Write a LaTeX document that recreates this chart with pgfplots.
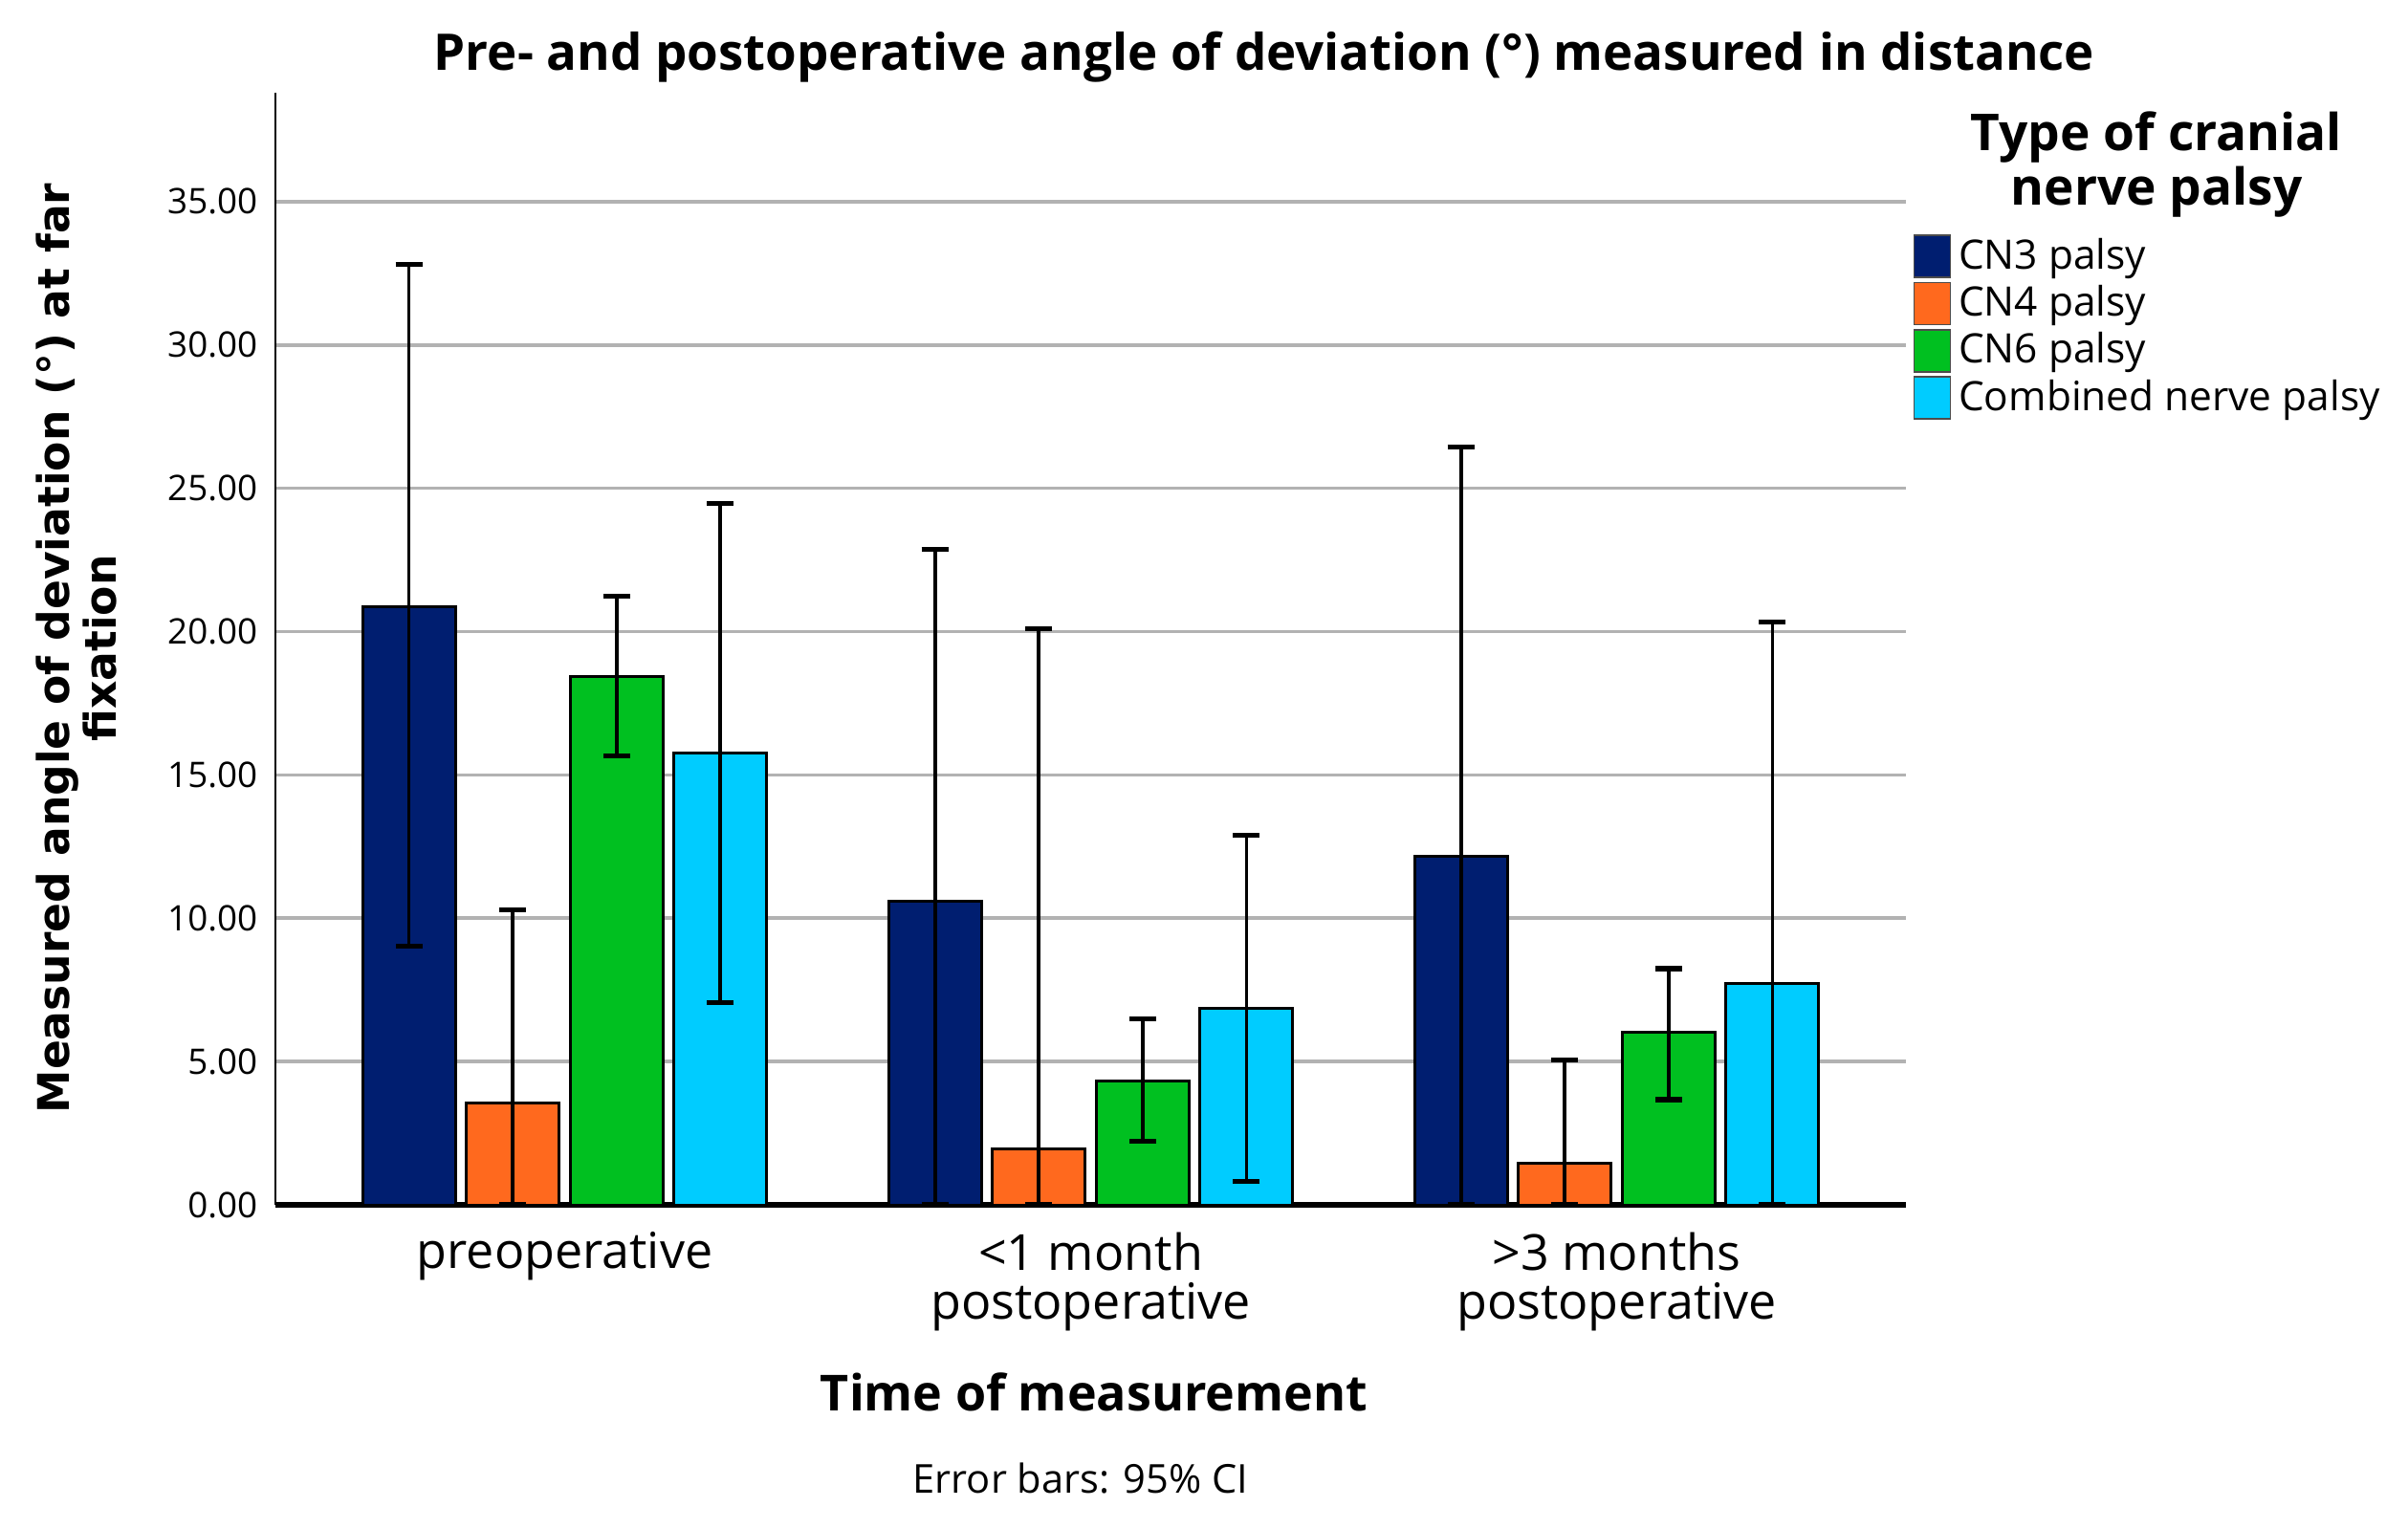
\documentclass[border=0pt]{standalone}
\usepackage{fontspec}
\setmainfont{Open Sans}
\newfontfamily\labelfont{DejaVu Sans}
\usepackage{pgfplots}
\pgfplotsset{compat=1.18}

\definecolor{cnthree}{RGB}{0,30,112}
\definecolor{cnfour}{RGB}{255,105,30}
\definecolor{cnsix}{RGB}{0,192,32}
\definecolor{combined}{RGB}{0,204,255}
\definecolor{gridgray}{RGB}{178,178,178}

\pgfplotsset{
    boxlegend/.style={legend image code/.code={%
        \draw[##1, draw=gray!60!black, line width=0.4pt] (0pt,-5.5pt) rectangle (9.5pt,5.5pt);}},
    palsybar/.style={fill=#1, draw=black, line width=0.75pt, boxlegend},
}

\begin{document}
\begin{tikzpicture}
\useasboundingbox (-72pt,-84.5pt) rectangle (557.5pt,315pt);
\begin{axis}[
    at={(0,0)}, anchor=south west,
    scale only axis,
    width=426.25pt, height=290.75pt,
    xmin=-0.55, xmax=2.55,
    ymin=0, ymax=38.8,
    ybar, bar width=0.176,
    axis x line*=bottom, axis y line*=left,
    x axis line style={line width=1.3pt, -},
    y axis line style={line width=0.5pt, -},
    xtick={0,1,2},
    xticklabels={preoperative, {<1 month\\postoperative}, {>3 months\\postoperative}},
    xticklabel style={font=\fontsize{13}{12.9}\selectfont, align=center, anchor=north, inner sep=0pt, yshift=-7pt},
    ytick={0,5,10,15,20,25,30,35},
    /pgf/number format/assume math mode=true,
    yticklabel style={/pgf/number format/.cd, fixed, fixed zerofill, precision=2, /tikz/.cd,
        font=\fontsize{9.2}{10}\selectfont, inner sep=0pt, xshift=-4.5pt},
    major tick length=0pt,
    ymajorgrids,
    major grid style={gridgray, line width=0.9pt},
    legend style={at={(1.0040,0.877)}, anchor=north west, draw=none, fill=none,
        font=\fontsize{10.6}{11}\selectfont, row sep=-1.2pt, inner sep=0pt,
        /tikz/every even column/.append style={column sep=1.5pt}},
    legend cell align=left,
    error bars/y dir=both, error bars/y explicit,
    error bars/error bar style={black, line width=0.9pt},
    error bars/error mark options={black, rotate=90, mark size=3.5pt, line width=1.3pt},
]

% CN3 palsy
\addplot[palsybar=cnthree, bar shift=-0.296]
    coordinates {(0,20.86) += (0,11.96) -= (0,11.84)
                 (1,10.59) += (0,12.28) -= (0,10.59)
                 (2,12.17) += (0,14.27) -= (0,12.17)};
% CN4 palsy
\addplot[palsybar=cnfour, bar shift=-0.0987]
    coordinates {(0,3.57) += (0,6.73) -= (0,3.57)
                 (1,1.95) += (0,18.16) -= (0,1.95)
                 (2,1.46) += (0,3.59) -= (0,1.46)};
% CN6 palsy
\addplot[palsybar=cnsix, bar shift=0.0987]
    coordinates {(0,18.42) += (0,2.82) -= (0,2.75)
                 (1,4.31) += (0,2.19) -= (0,2.10)
                 (2,6.01) += (0,2.23) -= (0,2.34)};
% combined
\addplot[palsybar=combined, bar shift=0.296]
    coordinates {(0,15.75) += (0,8.72) -= (0,8.69)
                 (1,6.86) += (0,6.04) -= (0,6.05)
                 (2,7.71) += (0,12.62) -= (0,7.71)};

\legend{CN3 palsy, CN4 palsy, CN6 palsy, Combined nerve palsy}
\end{axis}

\node[font=\bfseries\fontsize{13.2}{15}\selectfont] at (258.5pt,300pt)
    {Pre- and postoperative angle of deviation (°) measured in distance};
\node[rotate=90, align=center, font=\labelfont\bfseries\fontsize{11.4}{12.25}\selectfont] at (-51.9pt,145.5pt)
    {Measured angle of deviation (°) at far\\fixation};
\node[align=center, font=\bfseries\fontsize{13.3}{13}\selectfont] at (491.75pt,272pt)
    {Type of cranial\\nerve palsy};
\node[font=\bfseries\fontsize{13}{15}\selectfont] at (214pt,-49pt) {Time of measurement};
\node[font=\fontsize{10.4}{12}\selectfont] at (210.5pt,-71.5pt) {Error bars: 95\% CI};
\end{tikzpicture}
\end{document}
